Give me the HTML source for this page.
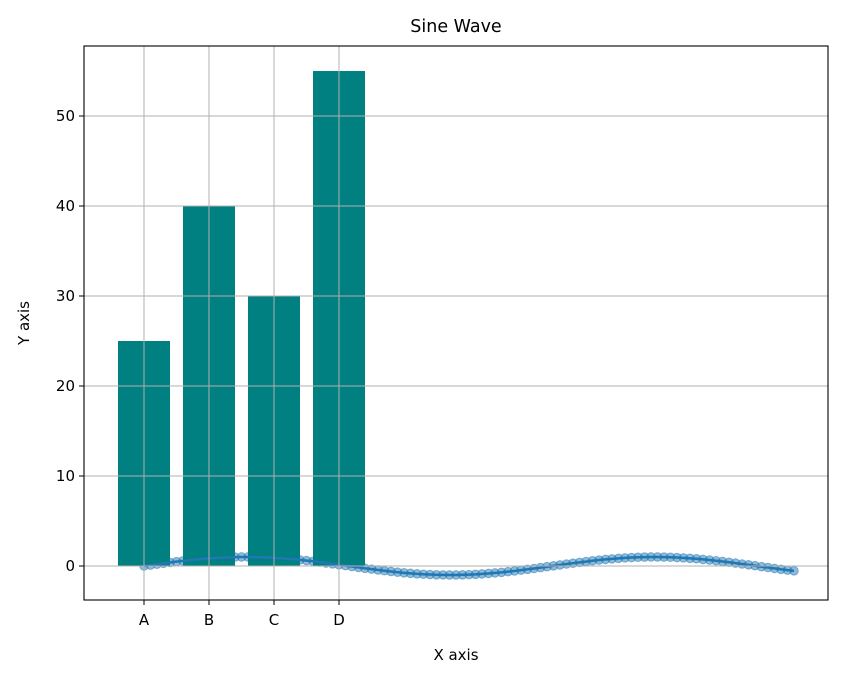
<!DOCTYPE html>
<html><head><meta charset="utf-8"><style>
body{margin:0;background:#fff}
svg text{font-family:"DejaVu Sans","Liberation Sans",sans-serif;fill:#000}
</style></head><body>
<svg id="chart" width="843" height="678" xmlns="http://www.w3.org/2000/svg">
<rect width="843" height="678" fill="#fff"/>
<g id="marks"></g>
</svg>
<script>
const categories=["A","B","C","D"];
const barValues=[25,40,30,55];
const sineX=[0,0.1,0.2,0.3,0.4,0.5,0.6,0.7,0.8,0.9,1.0,1.1,1.2,1.3,1.4,1.5,1.6,1.7,1.8,1.9,2.0,2.1,2.2,2.3,2.4,2.5,2.6,2.7,2.8,2.9,3.0,3.1,3.2,3.3,3.4,3.5,3.6,3.7,3.8,3.9,4.0,4.1,4.2,4.3,4.4,4.5,4.6,4.7,4.8,4.9,5.0,5.1,5.2,5.3,5.4,5.5,5.6,5.7,5.8,5.9,6.0,6.1,6.2,6.3,6.4,6.5,6.6,6.7,6.8,6.9,7.0,7.1,7.2,7.3,7.4,7.5,7.6,7.7,7.8,7.9,8.0,8.1,8.2,8.3,8.4,8.5,8.6,8.7,8.8,8.9,9.0,9.1,9.2,9.3,9.4,9.5,9.6,9.7,9.8,9.9,10.0];
const sineY=[0,.10,.20,.30,.39,.48,.56,.64,.72,.78,.84,.89,.93,.96,.99,1.00,1.00,.99,.97,.95,.91,.86,.81,.75,.68,.60,.52,.43,.33,.24,.14,.04,-.06,-.16,-.26,-.35,-.44,-.53,-.61,-.69,-.76,-.82,-.87,-.92,-.95,-.98,-.99,-1.00,-1.00,-.98,-.96,-.93,-.88,-.83,-.77,-.71,-.63,-.55,-.46,-.37,-.28,-.18,-.08,.02,.12,.22,.31,.40,.49,.58,.66,.73,.79,.85,.90,.94,.97,.99,1.00,1.00,.99,.97,.94,.90,.85,.80,.73,.66,.58,.50,.41,.32,.22,.13,.03,-.08,-.17,-.27,-.37,-.46,-.54];
const yTicks=[0,10,20,30,40,50];

const L=84,R=828,T=46,B=600;
const xMin=-0.923,xMax=10.523,yMin=-3.78,yMax=57.78;
const sx=v=>L+(v-xMin)/(xMax-xMin)*(R-L);
const sy=v=>B-(v-yMin)/(yMax-yMin)*(B-T);
const NS="http://www.w3.org/2000/svg";
const g=document.getElementById('marks');
function mk(tag,attrs,parent){const e=document.createElementNS(NS,tag);for(const k in attrs)e.setAttribute(k,attrs[k]);(parent||g).appendChild(e);return e;}

sineX.forEach((x,i)=>{
  const c=mk('circle',{cx:sx(x),cy:sy(sineY[i]),r:4.3,fill:'#1f77b4','fill-opacity':0.5,stroke:'#1f77b4','stroke-opacity':0.5,'stroke-width':1});
  
  
});
categories.forEach((c,i)=>{
  const w=sx(0.4)-sx(-0.4);
  const r=mk('rect',{x:sx(i-0.4),y:sy(barValues[i]),width:w,height:sy(0)-sy(barValues[i]),fill:'#008080'});
  
  
});
const p=mk('polyline',{points:sineX.map((x,i)=>sx(x)+','+sy(sineY[i])).join(' '),fill:'none',stroke:'#1f77b4','stroke-width':2.5});


categories.forEach((c,i)=>{
  const l=mk('line',{x1:sx(i),x2:sx(i),y1:T,y2:B,stroke:'#b0b0b0','stroke-width':1});
  
  
  const tk=mk('line',{x1:sx(i),x2:sx(i),y1:B,y2:B+5,stroke:'#000'});
  
  
  const t=mk('text',{x:sx(i),y:B+25,'text-anchor':'middle','font-size':15});
  t.textContent=c;
  
  
});
yTicks.forEach(v=>{
  const l=mk('line',{x1:L,x2:R,y1:sy(v),y2:sy(v),stroke:'#b0b0b0','stroke-width':1});
  
  
  const tk=mk('line',{x1:L-5,x2:L,y1:sy(v),y2:sy(v),stroke:'#000'});
  
  
  const t=mk('text',{x:L-9,y:sy(v)+5,'text-anchor':'end','font-size':15});
  t.textContent=v;
  
  
});
const fr=mk('rect',{x:L,y:T,width:R-L,height:B-T,fill:'none',stroke:'#000','stroke-width':1.1});


const ti=mk('text',{x:(L+R)/2,y:32,'text-anchor':'middle','font-size':17.5});
ti.textContent='Sine Wave';


const xt=mk('text',{x:(L+R)/2,y:660,'text-anchor':'middle','font-size':15});
xt.textContent='X axis';


const yt=mk('text',{x:0,y:0,'text-anchor':'middle','font-size':15,transform:'translate(29,'+((T+B)/2)+') rotate(-90)'});
yt.textContent='Y axis';


</script>
</body></html>
